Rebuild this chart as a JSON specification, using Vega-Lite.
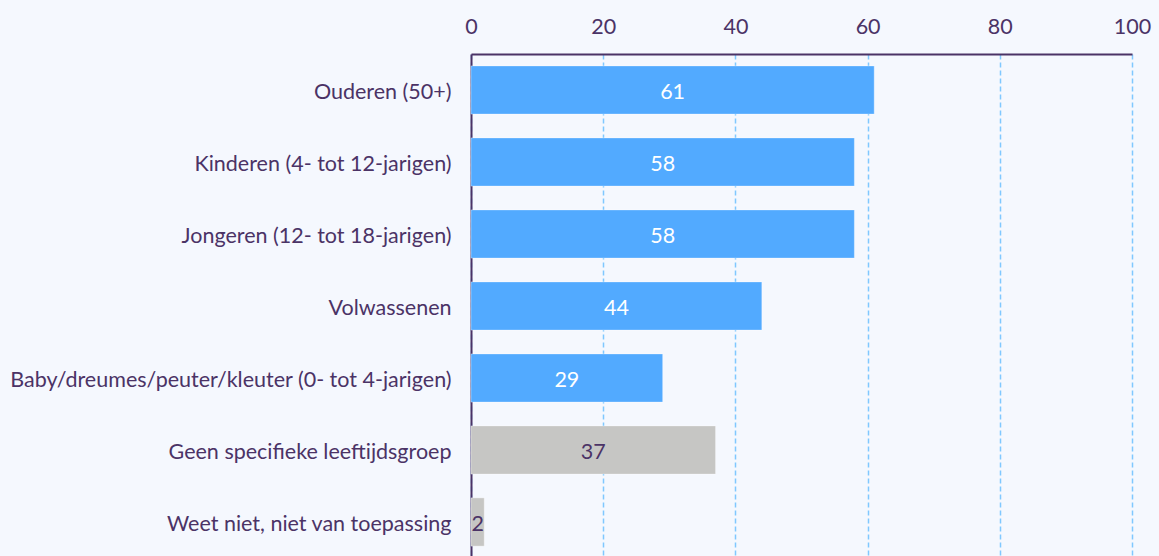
{
  "$schema": "https://vega.github.io/schema/vega-lite/v6.json",
  "width": 661,
  "height": 504,
  "autosize": {"type": "none"},
  "padding": {"left": 471, "top": 54, "right": 27, "bottom": 0},
  "background": "#f5f8fe",
  "config": {
    "view": {"stroke": null},
    "font": "Lato",
    "axis": {"labelFont": "Lato", "labelColor": "#4b3366", "labelFontSize": 21.5, "labelFontWeight": 400}
  },
  "data": {
    "values": [
      {"label": "Ouderen (50+)", "value": 61, "kind": "a"},
      {"label": "Kinderen (4- tot 12-jarigen)", "value": 58, "kind": "a"},
      {"label": "Jongeren (12- tot 18-jarigen)", "value": 58, "kind": "a"},
      {"label": "Volwassenen", "value": 44, "kind": "a"},
      {"label": "Baby/dreumes/peuter/kleuter (0- tot 4-jarigen)", "value": 29, "kind": "a"},
      {"label": "Geen specifieke leeftijdsgroep", "value": 37, "kind": "b"},
      {"label": "Weet niet, niet van toepassing", "value": 2, "kind": "b"}
    ]
  },
  "transform": [{"calculate": "datum.value / 2", "as": "mid"}],
  "encoding": {
    "y": {
      "field": "label", "type": "nominal", "sort": null, "title": null,
      "scale": {"paddingInner": 0.33, "paddingOuter": 0.165},
      "axis": {"domainColor": "#4b3366", "domainWidth": 2, "ticks": false, "labelPadding": 20, "labelLimit": 600, "labelOffset": 3}
    }
  },
  "resolve": {"scale": {"color": "independent"}},
  "layer": [
    {
      "mark": {"type": "bar", "stroke": "#ffffff", "strokeOpacity": 0.35, "strokeWidth": 1},
      "encoding": {
        "x": {
          "field": "value", "type": "quantitative", "title": null,
          "scale": {"domain": [0, 100], "nice": false},
          "axis": {
            "orient": "top", "values": [0, 20, 40, 60, 80, 100], "ticks": false,
            "labelFlush": false, "labelBound": false,
            "domainColor": "#4b3366", "domainWidth": 2, "labelPadding": 16,
            "grid": true, "gridColor": "#80c8ff", "gridDash": [5, 3], "gridWidth": 1.5
          }
        },
        "color": {
          "field": "kind", "type": "nominal", "legend": null,
          "scale": {"domain": ["a", "b"], "range": ["#52aaff", "#c6c6c4"]}
        }
      }
    },
    {
      "mark": {"type": "text", "font": "Lato", "fontSize": 21.5, "fontWeight": 400, "align": "center", "baseline": "middle", "dy": 3},
      "encoding": {
        "x": {"field": "mid", "type": "quantitative"},
        "text": {"field": "value", "type": "quantitative"},
        "color": {
          "field": "kind", "type": "nominal", "legend": null,
          "scale": {"domain": ["a", "b"], "range": ["#ffffff", "#4b3366"]}
        }
      }
    }
  ]
}
